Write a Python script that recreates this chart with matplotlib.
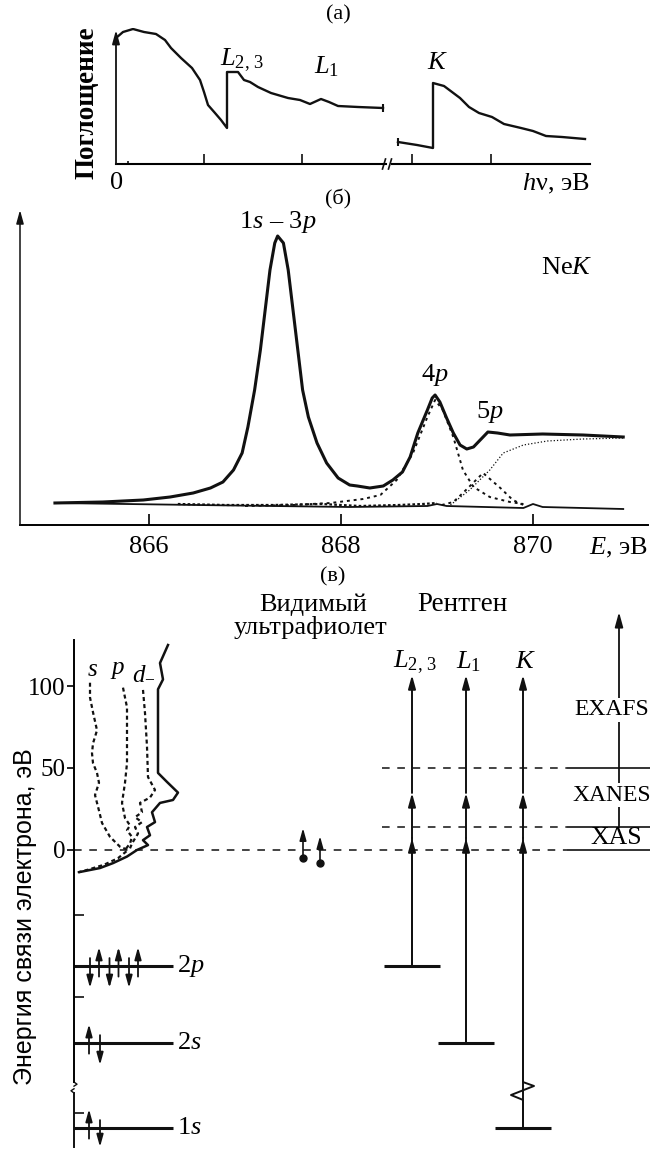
import matplotlib
matplotlib.use("Agg")
import matplotlib.pyplot as plt

plt.rcParams["font.family"] = ["Liberation Serif", "DejaVu Serif"]
plt.rcParams["mathtext.fontset"] = "custom"
plt.rcParams["mathtext.rm"] = "Liberation Serif"
plt.rcParams["mathtext.it"] = "Liberation Serif:italic"
plt.rcParams["mathtext.bf"] = "Liberation Serif:bold"

INK = "#111111"

# ---------------- (а) absorption spectrum, arbitrary units ----------------
hv_L = [0, 7, 17, 28, 40, 49, 55, 65, 76, 84, 88, 92, 99, 105, 111, 111, 122, 128,
        134, 142, 155, 172, 184, 194, 205, 213, 222, 242, 267]
mu_L = [126, 132, 135, 132, 130, 124, 116, 106, 96, 84, 72, 59, 51, 44, 36, 92, 92, 84,
        82, 77, 71, 66, 64, 60, 65, 62, 58, 57, 56]
hv_K = [6, 25, 41, 41, 52, 60, 68, 77, 87, 100, 112, 129, 141, 154, 170, 193]
mu_K = [22, 19, 16, 81, 78, 72, 66, 57, 51, 47, 40, 36, 33, 28, 27, 25]
ticks_L = [12, 88, 186]
ticks_K = [20, 99]

# ---------------- (б) Ne K-edge spectrum ----------------
E_tot = [865.02, 865.52, 865.94, 866.22, 866.46, 866.64, 866.77, 866.88, 866.97, 867.03,
         867.10, 867.16, 867.21, 867.26, 867.31, 867.34, 867.40, 867.45, 867.50, 867.55,
         867.60, 867.66, 867.75, 867.85, 867.97, 868.09, 868.17, 868.30, 868.44, 868.54,
         868.64, 868.72, 868.80, 868.90, 868.95, 868.98, 869.03, 869.10, 869.17, 869.24,
         869.31, 869.38, 869.47, 869.53, 869.63, 869.76, 870.10, 870.52, 870.94]
I_tot = [22, 23, 25, 28, 32, 37, 43, 55, 72, 98,
         135, 175, 215, 255, 282, 289, 282, 255, 215, 175,
         135, 108, 82, 62, 47, 40, 39, 37, 39, 45,
         53, 68, 92, 115, 127, 130, 123, 107, 92, 80,
         76, 78, 87, 93, 92, 90, 91, 90, 88]
E_base = [865.02, 866.5, 868.09, 868.9, 869.0, 869.1, 869.9, 870.0, 870.1, 870.94]
I_base = [22, 20, 18, 19, 21, 19, 17, 21, 18, 16]
E_res = [866.3, 866.8, 867.3, 867.8, 868.2, 868.6, 868.85, 869.0]
I_res = [21, 20, 20, 21, 19, 20, 21, 22]
E_4p = [867.0, 867.5, 867.89, 868.23, 868.41, 868.58, 868.75, 868.90, 868.98, 869.06,
        869.17, 869.27, 869.38, 869.55, 869.76, 869.90]
I_4p = [19, 20, 22, 26, 30, 45, 72, 108, 125, 115, 88, 55, 38, 28, 23, 21]
E_5p = [869.05, 869.17, 869.27, 869.48, 869.66, 869.79, 869.90]
I_5p = [20, 23, 32, 52, 37, 25, 20]
E_step = [869.14, 869.34, 869.55, 869.69, 869.90, 870.15, 870.52, 870.94]
I_step = [20, 35, 55, 72, 80, 84, 86, 87]
E_ticks = [866, 868, 870]

# ---------------- (в) energy-level scheme (eV, schematic below zero) ----------------
dos_tot_E = [125, 114, 104, 98, 47, 41.5, 35, 30.5, 28.7, 23, 17, 14, 9, 6, 3, 0, -4, -8, -11, -13.4]
dos_tot_D = [94, 86, 89, 84, 84, 93, 104, 99, 86, 78, 81, 73, 76, 69, 74, 63, 53, 39, 26, 6]
dos_s_E = [102, 93, 84, 73, 65, 59, 53, 47, 41, 33.5, 24, 16.5, 8, 2, 0, -5, -9, -12, -13.8]
dos_s_D = [16, 16, 19, 23, 19, 18, 19, 23, 25, 21, 25, 28, 36, 46, 54, 44, 30, 14, 3]
dos_p_E = [99, 87, 73, 53, 41, 28.7, 19.5, 15, 12, 8, 4, 0]
dos_p_D = [49, 53, 53, 53, 51, 48, 51, 56, 53, 58, 56, 51]
dos_d_E = [97.6, 83.5, 63, 44.5, 36.6, 32, 28.7, 23, 20, 17, 14, 10, 4, 1]
dos_d_D = [69, 71, 73, 74, 81, 76, 66, 68, 61, 68, 61, 64, 58, 56]

levels = ["2p", "2s", "1s"]
level_E = [-70.7, -117.7, -169.5]
level_up = [3, 1, 1]        # electrons with spin up
region_E = [0, 14, 50]     # XAS / XANES / EXAFS boundaries
edges = ["$L_{2,\\,3}$", "$L_1$", "$K$"]
edge_x = [412, 466, 523]
edge_top = 106.7
edge_marks = [7.3, 34.8]

W, H = 654, 1152
fig = plt.figure(figsize=(W / 100, H / 100), dpi=100)


def box(x0, y0, x1, y1):
    return [x0 / W, 1 - y1 / H, (x1 - x0) / W, (y1 - y0) / H]


def up_arrow(ax, x, y0, y1, lw=1.4, ms=11, hw=0.22, hl=0.8):
    ax.annotate("", xy=(x, y1), xytext=(x, y0),
                arrowprops=dict(arrowstyle=f"-|>,head_length={hl},head_width={hw}",
                                lw=lw, color=INK, mutation_scale=ms,
                                shrinkA=0, shrinkB=0), annotation_clip=False)


# ======================= (а) =======================
fig.text(338 / W, 1 - 15 / H, "(а)", ha="center", va="center", fontsize=16)
a1 = fig.add_axes(box(116, 28, 386, 164))
a2 = fig.add_axes(box(392, 28, 590, 164))
for a, xmax in ((a1, 270), (a2, 198)):
    a.set_xlim(0, xmax)
    a.set_ylim(0, 136)
    for s in ("top", "right", "left"):
        a.spines[s].set_visible(False)
    a.spines["bottom"].set_linewidth(1.5)
    a.set_xticks([])
    a.set_yticks([])
    a.patch.set_alpha(0)
a1.plot(hv_L, mu_L, color=INK, lw=1.7, solid_joinstyle="round")
a2.plot(hv_K, mu_K, color=INK, lw=1.7, solid_joinstyle="round")
a1.vlines(ticks_L, 0, [3, 10, 10], color=INK, lw=1.2)
a2.vlines(ticks_K, 0, 10, color=INK, lw=1.2)
a1.vlines(hv_L[-1], mu_L[-1] - 4, mu_L[-1] + 4, color=INK, lw=1.5)
a2.vlines(hv_K[0], mu_K[0] - 4, mu_K[0] + 4, color=INK, lw=1.5)
up_arrow(a1, 0, 0, 134, lw=1.3, ms=10)
for a, x in ((a1, 268), (a2, -2)):
    a.plot([x - 1.5, x + 1.5], [-5, 5], color=INK, lw=1.2, clip_on=False)
a1.text(1, -8, "0", ha="center", va="top", fontsize=19)
a2.text(198, -8, "$h$ν, эВ", ha="right", va="top", fontsize=19)
a1.text(104, 104, edges[0], ha="left", va="center", fontsize=19)
a1.text(198, 97, edges[1], ha="left", va="center", fontsize=19)
a2.text(35, 101, edges[2], ha="left", va="center", fontsize=19)
fig.text(87 / W, 1 - 103 / H, "Поглощение", rotation=90, ha="center", va="center",
         fontsize=19.5, fontweight="bold")

# ======================= (б) =======================
fig.text(338 / W, 1 - 199 / H, "(б)", ha="center", va="center", fontsize=16)
b = fig.add_axes(box(20, 208, 648, 525))
b.set_xlim(864.656, 871.198)
b.set_ylim(0, 317)
for s in ("top", "right", "left"):
    b.spines[s].set_visible(False)
b.spines["bottom"].set_linewidth(1.4)
b.set_yticks([])
b.set_xticks(E_ticks)
b.tick_params(axis="x", direction="in", length=8, width=1.2, labelsize=19, pad=8)
b.patch.set_alpha(0)
up_arrow(b, 864.656, 0, 315, lw=1.1, ms=10)
b.plot(E_base, I_base, color=INK, lw=1.3)
b.plot(E_res, I_res, color=INK, lw=1.6, ls=(0, (1.2, 1.0)))
b.plot(E_4p, I_4p, color=INK, lw=1.4, ls=(0, (1.5, 2.0)))
b.plot(E_5p, I_5p, color=INK, lw=1.4, ls=(0, (1.5, 2.0)))
b.plot(E_step, I_step, color=INK, lw=0.9, ls=(0, (1.0, 1.6)))
b.plot(E_tot, I_tot, color=INK, lw=2.2, solid_joinstyle="round")
b.text(867.34, 303, "1$s$ – 3$p$", ha="center", va="center", fontsize=19)
b.text(868.98, 150, "4$p$", ha="center", va="center", fontsize=19)
b.text(869.55, 113, "5$p$", ha="center", va="center", fontsize=19)
b.text(870.08, 257, "Ne$K$", ha="left", va="center", fontsize=19)
b.text(871.198, -23, "$E$, эВ", ha="right", va="center", fontsize=19)

# ======================= (в) =======================
fig.text(333 / W, 1 - 577 / H, "(в)", ha="center", va="center", fontsize=16)
c = fig.add_axes(box(0, 600, 654, 1152))
c.set_xlim(0, 654)
c.set_ylim(-184.15, 152.44)
c.patch.set_alpha(0)
for s in ("top", "right", "bottom"):
    c.spines[s].set_visible(False)
c.spines["left"].set_position(("data", 74))
c.spines["left"].set_bounds(-141.5, 128)
c.spines["left"].set_linewidth(1.4)
c.set_xticks([])
c.set_yticks([0, 50, 100])
c.tick_params(axis="y", direction="out", length=5, width=1.2, labelsize=18, pad=1)
# lower part of the broken axis
c.plot([74, 74], [-148.2, -181.1], color=INK, lw=1.4)
c.plot([74, 77, 74], [-141.5, -142.8, -144.0], color=INK, lw=1.0)
c.plot([74, 71, 74], [-145.6, -146.8, -148.2], color=INK, lw=1.0)
c.hlines([-39.6, -89.6, -160.4], 74, 84, color=INK, lw=1.2)
c.text(25, -40.5, "Энергия связи электрона, эВ", rotation=90, ha="center", va="center",
       fontsize=18, family=["Liberation Sans", "DejaVu Sans"])

# partial densities of states
c.plot([74 + d for d in dos_s_D], dos_s_E, color=INK, lw=1.6, ls=(0, (1.8, 1.4)))
c.plot([74 + d for d in dos_p_D], dos_p_E, color=INK, lw=1.6, ls=(0, (1.8, 1.4)))
c.plot([74 + d for d in dos_d_D], dos_d_E, color=INK, lw=1.6, ls=(0, (1.8, 1.4)))
c.plot([74 + d for d in dos_tot_D], dos_tot_E, color=INK, lw=1.8)
c.text(92, 110, "$s$", ha="center", va="center", fontsize=18)
c.text(118, 110, "$p$", ha="center", va="center", fontsize=18)
c.text(144, 108, "$d_{-}$", ha="center", va="center", fontsize=18)

# region boundaries
c.hlines(region_E[0], 74, 567, color=INK, lw=1.1, ls=(0, (5, 5)))
c.hlines(region_E[1:], 382, 567, color=INK, lw=1.1, ls=(0, (5, 5)))
c.hlines(region_E, 567, 650, color=INK, lw=1.2)
c.plot([619, 619], [region_E[1], region_E[2]], color=INK, lw=1.3)
up_arrow(c, 619, region_E[2], 145.1, lw=1.3, ms=11)
c.text(574, 85.4, "EXAFS", ha="left", va="center", fontsize=17, clip_on=False,
       bbox=dict(fc="white", ec="none", pad=1))
c.text(572, 33.5, "XANES", ha="left", va="center", fontsize=17, clip_on=False,
       bbox=dict(fc="white", ec="none", pad=1))
c.text(590, 7.3, "XAS", ha="left", va="center", fontsize=18.5, clip_on=False)

# valence electrons (visible / UV excitation)
c.plot([303, 320], [-4.9, -7.9], "o", color=INK, ms=5)
up_arrow(c, 303, -4.9, 13.4, lw=1.2, ms=9)
up_arrow(c, 320, -7.9, 8.5, lw=1.2, ms=9)
c.text(313, 149.4, "Видимый", ha="center", va="center", fontsize=19)
c.text(311, 135.4, "ультрафиолет", ha="center", va="center", fontsize=19)
c.text(462, 149.4, "Рентген", ha="center", va="center", fontsize=19.5)

# core levels with electrons
for name, e, nup in zip(levels, level_E, level_up):
    c.hlines(e, 74, 173, color=INK, lw=2.2)
    c.text(177, e, name[0] + "$" + name[1] + "$", ha="left", va="center", fontsize=19)
    for k in range(nup):
        xu = 99 + 19.5 * k if nup > 1 else 89
        xd = 90 + 19.5 * k if nup > 1 else 100
        up_arrow(c, xu, e - 6.5, e + 11.5, lw=1.3, ms=9)
        up_arrow(c, xd, e + 4.8, e - 13.4 if e > -150 else e - 11.6, lw=1.3, ms=9)

# X-ray absorption edges
edge_bar_half = 28
for name, x, e in zip(edges, edge_x, level_E):
    c.hlines(e, x - edge_bar_half, x + edge_bar_half, color=INK, lw=2.2)
    if name == "$K$":
        c.plot([x, x, x - 12, x + 11, x, x],
               [e, -152.4, -149.4, -143.9, -141.5, edge_marks[0]],
               color=INK, lw=1.4)
    else:
        c.plot([x, x], [e, edge_marks[0]], color=INK, lw=1.4)
    up_arrow(c, x, e + 1, edge_marks[0], lw=1.4, ms=10)
    up_arrow(c, x, edge_marks[0], edge_marks[1], lw=1.4, ms=10)
    up_arrow(c, x, edge_marks[1], edge_top, lw=1.4, ms=10)
    c.text(x + 3, 114.6, name, ha="center", va="center", fontsize=19)

fig.savefig("out.png", dpi=100, facecolor="white")
